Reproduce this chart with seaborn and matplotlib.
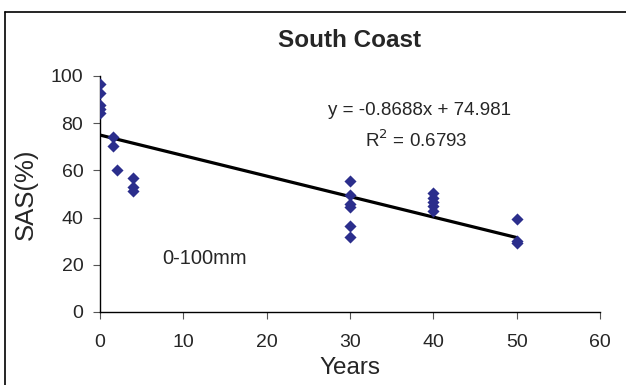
import matplotlib
matplotlib.use("Agg")
import matplotlib.pyplot as plt
import seaborn as sns
import pandas as pd
from matplotlib.lines import Line2D

years = [0, 0, 0, 0, 0, 1.6, 1.6, 2, 4, 4, 4,
         30, 30, 30, 30, 30, 30,
         40, 40, 40, 40, 40,
         50, 50, 50]
sas = [96.6, 93, 87.7, 86, 84.4, 74, 70.3, 60, 56.6, 52.9, 51.2,
       55.7, 49.6, 45.8, 44.4, 36.6, 31.6,
       50.5, 48.4, 46.5, 44.8, 43,
       39.4, 30.2, 29.1]
slope = -0.8688
intercept = 74.981
r2 = 0.6793
fit_x = [0, 50]

df = pd.DataFrame({"Years": years, "SAS": sas})
fit_df = pd.DataFrame({"Years": fit_x, "SAS": [slope * x + intercept for x in fit_x]})

sns.set_style("white")
plt.rcParams["font.family"] = ["Liberation Sans", "DejaVu Sans"]

fig = plt.figure(figsize=(6.26, 3.85), dpi=100)
ax = fig.add_axes([100/626, 73/385, 500/626, 236/385])

sns.lineplot(data=fit_df, x="Years", y="SAS", color="black", linewidth=2.3, ax=ax, zorder=3)
sns.scatterplot(data=df, x="Years", y="SAS", marker="D", s=38, color="#2B2E8C",
                edgecolor="#2B2E8C", linewidth=0, ax=ax, zorder=4)

ax.set_xlim(0, 60)
ax.set_ylim(0, 100)
ax.set_xticks(range(0, 61, 10))
ax.set_yticks(range(0, 101, 20))
ax.tick_params(axis="both", labelsize=14, length=5, width=0.8, direction="out",
               color="#555555", bottom=True, left=True)
ax.tick_params(axis="x", pad=11)
ax.tick_params(axis="y", pad=7)
for s in ["top", "right"]:
    ax.spines[s].set_visible(False)
for s in ["left", "bottom"]:
    ax.spines[s].set_color("black")
    ax.spines[s].set_linewidth(1.0)

ax.set_xlabel("Years", fontsize=17.5, labelpad=4)
ax.set_ylabel("SAS(%)", fontsize=18.5, labelpad=9)
ax.set_title("South Coast", fontsize=17.5, fontweight="bold", pad=21)

ax.text(38.4, 85.5, f"y = {slope}x + {intercept}", fontsize=13.5, ha="center", va="center")
ax.text(38.0, 72.8, f"R$^2$ = {r2}", fontsize=13.5, ha="center", va="center")
ax.text(12.6, 22.5, "0-100mm", fontsize=14.5, ha="center", va="center")

# outer chart border (left and top visible)
fig.add_artist(Line2D([5/626, 5/626], [0, 1 - 12/385], transform=fig.transFigure, color="black", lw=1.2))
fig.add_artist(Line2D([5/626, 1], [1 - 12/385, 1 - 12/385], transform=fig.transFigure, color="black", lw=1.2))

fig.savefig("out.png", dpi=100)
